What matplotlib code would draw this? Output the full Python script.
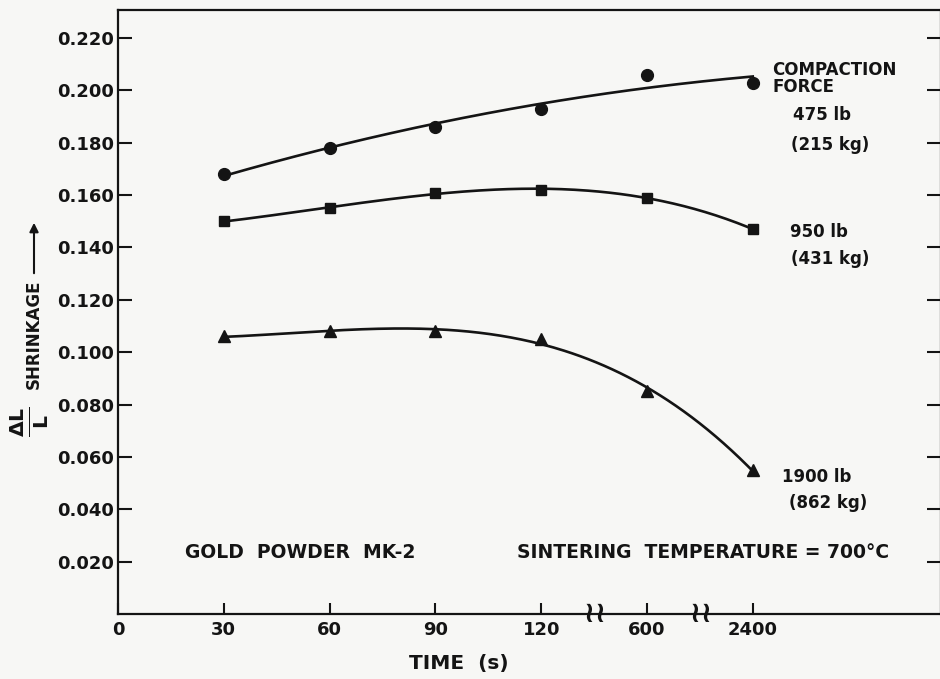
import numpy as np
import matplotlib
matplotlib.use('Agg')
import matplotlib.pyplot as plt

# time axis is broken after 120 s, so categories sit at equal spacing
tick_labels = ['0', '30', '60', '90', '120', '600', '2400']
sample_times = ['30', '60', '90', '120', '600', '2400']

# delta L / L shrinkage for each compaction force
shrink_475 = [0.168, 0.178, 0.186, 0.193, 0.206, 0.203]
shrink_950 = [0.150, 0.155, 0.161, 0.162, 0.159, 0.147]
shrink_1900 = [0.106, 0.108, 0.108, 0.105, 0.085, 0.055]

yticks = [0.020, 0.040, 0.060, 0.080, 0.100, 0.120, 0.140, 0.160, 0.180, 0.200, 0.220]

ink = '#141414'
paper = '#f7f7f5'
W, H = 940, 679

plt.rcParams['font.family'] = ['DejaVu Sans']
plt.rcParams['mathtext.fontset'] = 'dejavusans'

fig = plt.figure(figsize=(W / 100, H / 100), dpi=100, facecolor=paper)
ax = fig.add_axes([118 / W, (H - 614) / H, (941 - 118) / W, (614 - 10) / H])
ax.set_facecolor(paper)

xs = np.array([tick_labels.index(t) for t in sample_times], dtype=float)


def curve(values, deg, marker, ms):
    coef = np.polyfit(xs, values, deg)
    xx = np.linspace(xs[0], xs[-1], 200)
    ax.plot(xx, np.polyval(coef, xx), color=ink, lw=1.9, zorder=2)
    ax.plot(xs, values, ls='none', marker=marker, ms=ms, color=ink, zorder=3)


curve(shrink_475, 2, 'o', 8.5)
curve(shrink_950, 3, 's', 7.5)
curve(shrink_1900, 3, '^', 8.5)

ax.set_xlim(0, (941 - 118) / 105.8)
ax.set_ylim(0, 604 / 2618)

ax.set_xticks(range(len(tick_labels)))
ax.set_xticklabels(tick_labels, fontweight='bold')
ax.set_yticks(yticks)
ax.set_yticklabels(['%.3f' % v for v in yticks], fontweight='bold')

ax.tick_params(axis='both', direction='in', colors=ink, labelsize=13, width=1.5)
ax.tick_params(axis='y', length=10, pad=3, right=True)
ax.tick_params(axis='x', length=8, pad=5)
for s in ax.spines.values():
    s.set_linewidth(1.6)
    s.set_color(ink)

# axis break marks, sitting across the bottom spine
for bx in (4.5, 5.5):
    ax.text(bx, 0.0, r'$\mathbf{\wr\!\wr}$', ha='center', va='center', fontsize=21,
            color=ink, zorder=4, clip_on=False)


def ftext(x, y, s, **kw):
    fig.text(x / W, 1 - y / H, s, color=ink, **kw)


ftext(459, 663, 'TIME  (s)', ha='center', va='center', fontsize=14.5, fontweight='bold')

# y label: fraction, word and upward arrow
ftext(30, 422, r'$\frac{\mathbf{\Delta L}}{\mathbf{L}}$', ha='center', va='center',
      fontsize=21, rotation=90)
ftext(34, 334, 'SHRINKAGE', ha='center', va='center', fontsize=12, rotation=90,
      fontweight='bold')
ax.annotate('', xy=(34 / W, 1 - 220 / H), xytext=(34 / W, 1 - 276 / H),
            xycoords='figure fraction', textcoords='figure fraction',
            arrowprops=dict(arrowstyle='-|>', lw=1.5, color=ink, mutation_scale=13))

side = dict(ha='left', va='center', fontsize=12, fontweight='bold')
ftext(772, 70, 'COMPACTION', **side)
ftext(772, 87, 'FORCE', **side)
ftext(793, 115, '475 lb', **side)
ftext(791, 145, '(215 kg)', **side)
ftext(790, 232, '950 lb', **side)
ftext(791, 259, '(431 kg)', **side)
ftext(782, 477, '1900 lb', **side)
ftext(789, 503, '(862 kg)', **side)

note = dict(ha='left', va='center', fontsize=13.5, fontweight='bold')
ftext(185, 552, 'GOLD  POWDER  MK-2', **note)
ftext(517, 552, 'SINTERING  TEMPERATURE = 700°C', **note)

fig.savefig('out.png', dpi=100, facecolor=paper)
